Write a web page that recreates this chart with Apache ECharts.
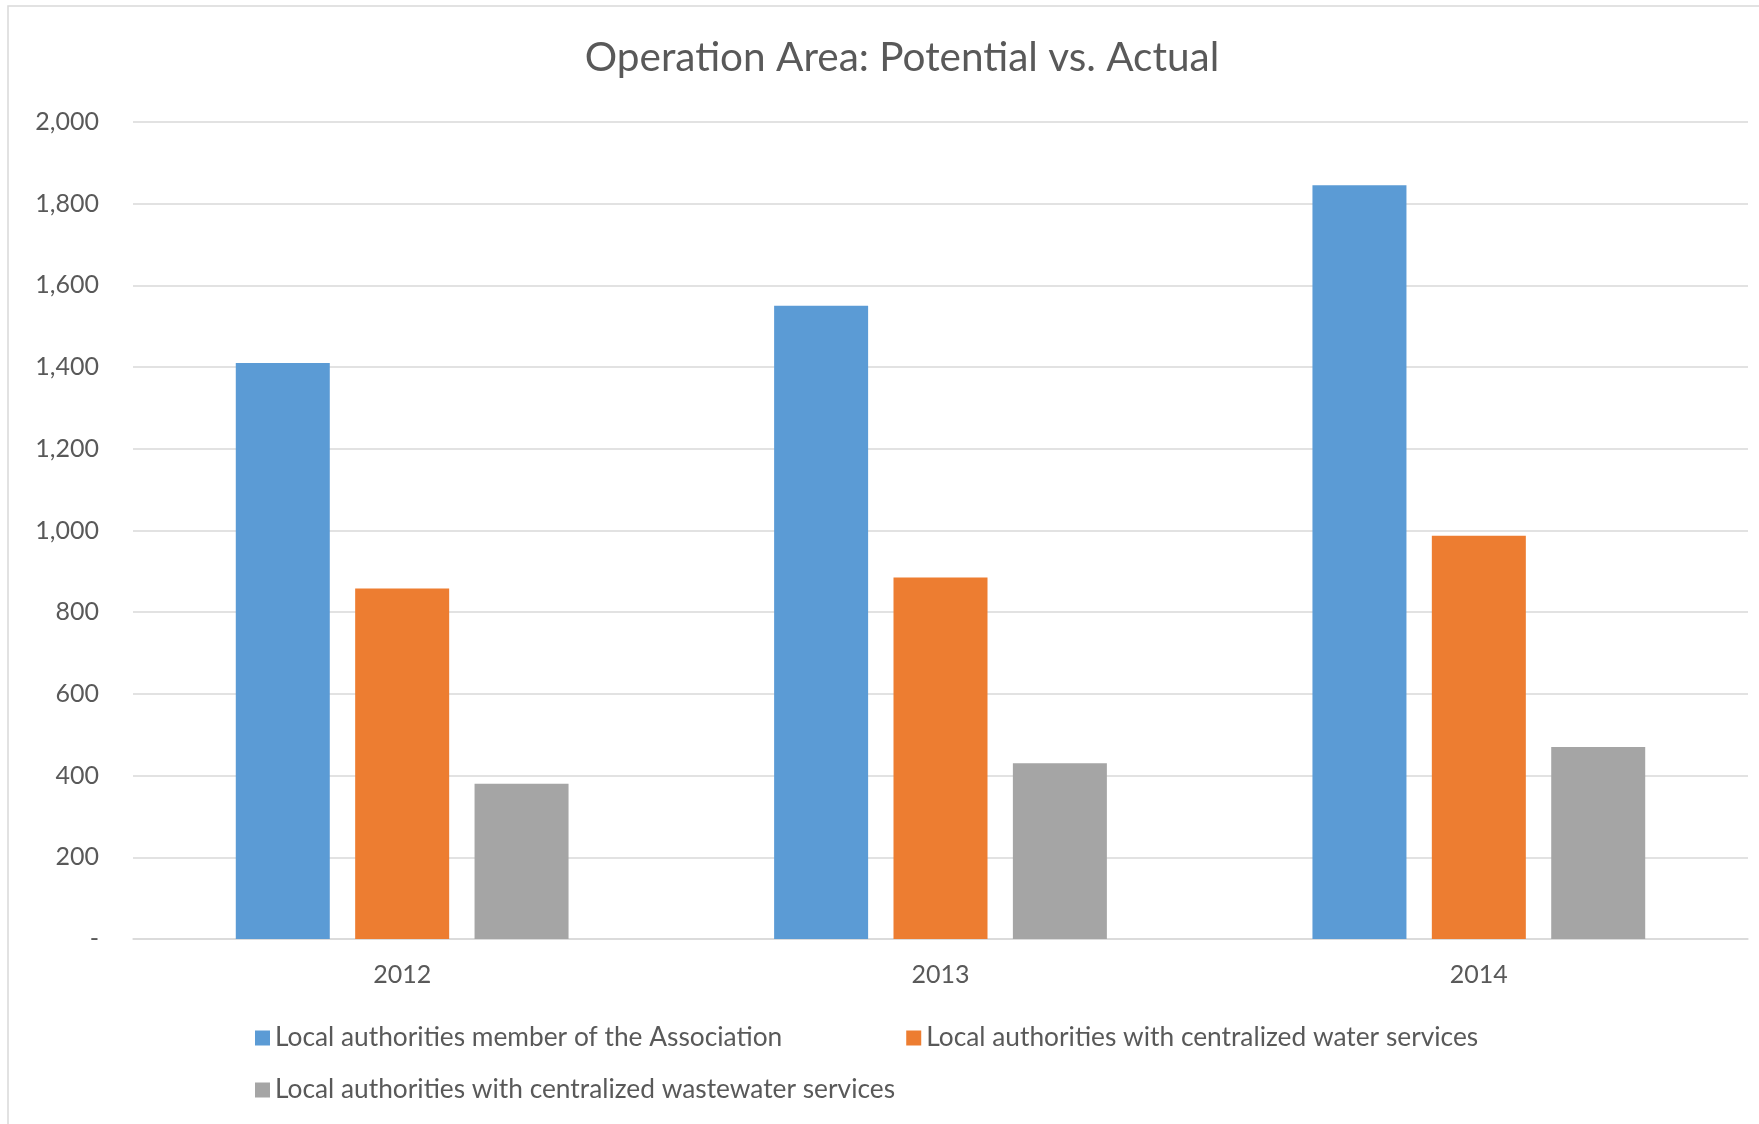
<!DOCTYPE html>
<html>
<head>
<meta charset="utf-8">
<script src="https://cdn.jsdelivr.net/npm/echarts@6/dist/echarts.min.js"></script>
<style>
html,body{margin:0;padding:0;background:#fff;}
#chart{width:1759px;height:1124px;}
</style>
</head>
<body>
<div id="chart"></div>
<script>
const categories = ['2012', '2013', '2014'];
const seriesNames = [
  'Local authorities member of the Association',
  'Local authorities with centralized water services',
  'Local authorities with centralized wastewater services'
];
const memberValues = [1410, 1550, 1845];
const waterValues = [858, 885, 987];
const wastewaterValues = [380, 430, 470];
const yTicks = { min: 0, max: 2000, interval: 200 };

const FONT = 'Lato';
const TXT = '#595959';
const colors = ['#5B9BD5', '#ED7D31', '#A5A5A5'];

const chart = echarts.init(document.getElementById('chart'), null, { renderer: 'canvas' });

function fmt(v) {
  if (v === 0) return '-';
  return v.toLocaleString('en-US');
}

const option = {
  animation: false,
  backgroundColor: '#fff',
  color: colors,
  graphic: [{
    type: 'rect',
    shape: { x: 8, y: 6, width: 1800, height: 1200 },
    style: { fill: 'none', stroke: '#d9d9d9', lineWidth: 1.5 },
    silent: true,
    z: -1
  }],
  title: {
    text: 'Operation Area: Potential vs. Actual',
    left: 897,
    textAlign: 'center',
    top: 32,
    textStyle: { fontFamily: FONT, fontSize: 40.5, fontWeight: 'normal', color: TXT }
  },
  grid: { left: 133, right: 11, top: 122, bottom: 185, containLabel: false },
  legend: [{
    data: [seriesNames[0], seriesNames[1]],
    left: 255, top: 1023, padding: 0,
    itemWidth: 15, itemHeight: 15, itemGap: 124,
    icon: 'rect',
    textStyle: { fontFamily: FONT, fontSize: 26.3, color: TXT, lineHeight: 30 }
  }, {
    data: [seriesNames[2]],
    left: 255, top: 1075, padding: 0,
    itemWidth: 15, itemHeight: 15,
    icon: 'rect',
    textStyle: { fontFamily: FONT, fontSize: 26.3, color: TXT, lineHeight: 30 }
  }],
  xAxis: {
    type: 'category',
    data: categories,
    axisLine: { show: true, lineStyle: { color: '#d9d9d9', width: 1.5 } },
    axisTick: { show: false },
    axisLabel: { fontFamily: FONT, fontSize: 25, color: TXT, margin: 23 }
  },
  yAxis: {
    type: 'value',
    min: yTicks.min, max: yTicks.max, interval: yTicks.interval,
    axisLine: { show: false },
    axisTick: { show: false },
    splitLine: { lineStyle: { color: '#d9d9d9', width: 1.5 } },
    axisLabel: { fontFamily: FONT, fontSize: 25, color: TXT, margin: 34, formatter: fmt }
  },
  series: [
    { name: seriesNames[0], type: 'bar', data: memberValues, barWidth: 94, barGap: '27%' },
    { name: seriesNames[1], type: 'bar', data: waterValues, barWidth: 94, barGap: '27%' },
    { name: seriesNames[2], type: 'bar', data: wastewaterValues, barWidth: 94, barGap: '27%' }
  ]
};
chart.setOption(option);
</script>
</body>
</html>
